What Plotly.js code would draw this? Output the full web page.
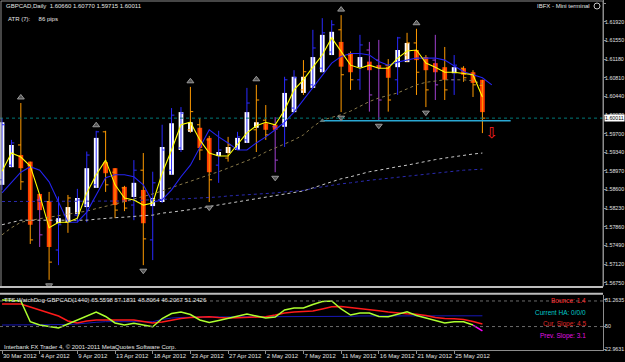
<!DOCTYPE html>
<html><head><meta charset="utf-8">
<script src="https://cdn.plot.ly/plotly-3.0.1.min.js"></script>
<style>html,body{margin:0;padding:0;background:#000;}#chart{width:625px;height:362px;}</style>
</head><body><div id="chart"></div>
<script>
// ---------- data ----------
const symbol = 'GBPCAD,Daily';
const lastOHLC = [1.60660, 1.60770, 1.59715, 1.60011];
const dateLabels = ['30 Mar 2012','4 Apr 2012','9 Apr 2012','13 Apr 2012','18 Apr 2012','23 Apr 2012','27 Apr 2012','2 May 2012','7 May 2012','11 May 2012','16 May 2012','21 May 2012','25 May 2012'];
const dateBars = [0,4,8,12,16,20,24,28,32,36,40,44,48];
const priceTicks = [1.62290,1.61920,1.61550,1.61180,1.60810,1.60440,1.60070,1.59700,1.59340,1.58970,1.58600,1.58230,1.57860,1.57490,1.57120,1.56750];

const high = [1.6001,1.5958,1.6031,1.5915,1.5849,1.5855,1.5846,1.5849,1.5861,1.5935,
  1.5976,1.5976,1.5902,1.5867,1.5918,1.5932,1.5895,1.5988,1.6021,1.6023,
  1.6063,1.6001,1.5966,1.5976,1.5964,1.5974,1.6061,1.6067,1.6027,1.6003,
  1.6083,1.6096,1.6116,1.6176,1.6199,1.6195,1.6205,1.6133,1.6166,1.6152,
  1.6156,1.6118,1.6162,1.6170,1.6178,1.6126,1.6166,1.6142,1.6126,1.6104,
  1.6096,1.60770];
const low = [1.5859,1.5904,1.5859,1.5752,1.5746,1.5681,1.5710,1.5774,1.5795,1.5795,
  1.5863,1.5855,1.5803,1.5817,1.5799,1.5710,1.5720,1.5833,1.5889,1.5934,
  1.5972,1.5918,1.5835,1.5873,1.5915,1.5938,1.5952,1.5934,1.5958,1.5894,
  1.5944,1.6013,1.6047,1.6061,1.6092,1.6126,1.6013,1.6057,1.6057,1.6014,
  1.5997,1.6014,1.6047,1.6112,1.6047,1.6023,1.6037,1.6037,1.6047,1.6073,
  1.6043,1.59715];
const barOpen = [1.5879,1.5908,1.5948,1.5908,1.5839,1.5836,1.5740,1.5795,1.5809,1.5829,
  1.5869,1.5974,1.5894,1.5863,1.5829,1.5898,1.5760,1.5839,1.5898,1.5942,
  1.5978,1.5988,1.5958,1.5908,1.5922,1.5942,1.5958,1.5978,1.5997,1.5984,
  1.5988,1.6021,1.6057,1.6067,1.6100,1.6132,1.6176,1.6126,1.6077,1.6136,
  1.6116,1.6106,1.6077,1.6126,1.6150,1.6120,1.6116,1.6096,1.6077,1.6100,
  1.6087,1.60660];
const barClose = [1.5988,1.5952,1.5875,1.5760,1.5770,1.5716,1.5790,1.5843,1.5839,1.5928,
  1.5974,1.5869,1.5819,1.5823,1.5898,1.5762,1.5873,1.5938,1.6007,1.6011,
  1.6014,1.5938,1.5879,1.5938,1.5948,1.5964,1.6031,1.6037,1.5968,1.5918,
  1.6077,1.6081,1.6093,1.6140,1.6170,1.6186,1.6087,1.6077,1.6146,1.6047,
  1.6037,1.6037,1.6160,1.6150,1.6092,1.6057,1.6067,1.6057,1.6106,1.6081,
  1.6067,1.60011];
const haOpen = [1.5869,1.5904,1.5928,1.5915,1.5851,1.5836,1.5793,1.5795,1.5811,1.5825,
  1.5863,1.5914,1.5902,1.5865,1.5845,1.5859,1.5827,1.5835,1.5889,1.5938,
  1.5974,1.5982,1.5962,1.5926,1.5932,1.5938,1.5952,1.5982,1.5991,1.5988,
  1.5984,1.6013,1.6051,1.6061,1.6092,1.6126,1.6152,1.6130,1.6102,1.6113,
  1.6106,1.6103,1.6102,1.6112,1.6136,1.6122,1.6110,1.6102,1.6090,1.6100,
  1.6092,1.6077];
const haClose = [1.5993,1.5948,1.5902,1.5790,1.5819,1.5746,1.5803,1.5825,1.5843,1.5902,
  1.5962,1.5892,1.5829,1.5835,1.5873,1.5793,1.5843,1.5944,1.5991,1.6013,
  1.5993,1.5942,1.5894,1.5934,1.5944,1.5962,1.6013,1.5993,1.5978,1.5978,
  1.6051,1.6083,1.6083,1.6122,1.6166,1.6172,1.6103,1.6092,1.6122,1.6096,
  1.6100,1.6081,1.6136,1.6150,1.6116,1.6096,1.6092,1.6077,1.6102,1.6087,
  1.6071,1.6013];
// bar state: u = bullish, d = bearish, n = neutral
const barState = ['u','u','d','d','n','d','u','d','u','u',
  'u','d','d','d','u','d','u','u','u','u',
  'd','d','d','u','d','u','u','d','d','n',
  'u','u','d','u','u','u','d','d','u','n',
  'n','d','u','d','d','d','n','d','u','d',
  'd','d'];
const fastMA = [1.5896,1.5932,1.5924,1.5906,1.5849,1.5784,1.5795,1.5795,1.5803,1.5853,
  1.5889,1.5918,1.5869,1.5843,1.5839,1.5829,1.5833,1.5892,1.5938,1.5988,
  1.5993,1.5958,1.5932,1.5926,1.5926,1.5948,1.5972,1.5986,1.5993,1.5988,
  1.6017,1.6057,1.6077,1.6102,1.6126,1.6160,1.6132,1.6106,1.6100,1.6106,
  1.6100,1.6100,1.6120,1.6134,1.6136,1.6110,1.6102,1.6092,1.6092,1.6090,
  1.6087,1.6043];
const slowMA = [1.5853,1.5873,1.5894,1.5905,1.5898,1.5875,1.5835,1.5795,1.5795,1.5815,
  1.5849,1.5883,1.5889,1.5889,1.5885,1.5869,1.5835,1.5839,1.5859,1.5885,
  1.5908,1.5942,1.5978,1.5964,1.5952,1.5938,1.5938,1.5952,1.5964,1.5978,
  1.5993,1.6013,1.6037,1.6061,1.6087,1.6110,1.6123,1.6129,1.6129,1.6126,
  1.6113,1.6106,1.6112,1.6116,1.6120,1.6120,1.6120,1.6116,1.6104,1.6093,
  1.6087,1.6081,1.6067];
const maGrey = [1.5790,1.5795,1.5799,1.5799,1.5799,1.5799,1.5799,1.5799,1.5799,1.5799,
  1.5801,1.5803,1.5804,1.5805,1.5807,1.5808,1.5809,1.5813,1.5815,1.5817,
  1.5820,1.5823,1.5826,1.5829,1.5832,1.5835,1.5838,1.5841,1.5844,1.5847,
  1.5850,1.5853,1.5857,1.5863,1.5869,1.5875,1.5881,1.5885,1.5890,1.5895,
  1.5898,1.5902,1.5905,1.5908,1.5912,1.5916,1.5919,1.5922,1.5925,1.5928,
  1.5930,1.5932];
const maNavy = [1.5836,1.5836,1.5836,1.5836,1.5836,1.5836,1.5836,1.5836,1.5836,1.5836,
  1.5836,1.5836,1.5837,1.5837,1.5838,1.5839,1.5839,1.5840,1.5841,1.5841,
  1.5842,1.5842,1.5844,1.5845,1.5847,1.5848,1.5849,1.5850,1.5852,1.5853,
  1.5855,1.5856,1.5858,1.5862,1.5865,1.5869,1.5871,1.5873,1.5876,1.5878,
  1.5880,1.5882,1.5885,1.5887,1.5889,1.5891,1.5893,1.5895,1.5897,1.5898,
  1.5899,1.5900];
const maBrown = [1.5770,1.5784,1.5795,1.5799,1.5802,1.5805,1.5808,1.5811,1.5814,1.5817,
  1.5822,1.5826,1.5831,1.5836,1.5841,1.5845,1.5851,1.5857,1.5864,1.5870,
  1.5876,1.5883,1.5889,1.5895,1.5902,1.5909,1.5916,1.5924,1.5934,1.5942,
  1.5950,1.5958,1.5968,1.5984,1.5997,1.6002,1.6008,1.6015,1.6025,1.6034,
  1.6041,1.6046,1.6051,1.6059,1.6067,1.6072,1.6075,1.6077,1.6077,1.6077,
  1.6075,1.6069];
const fractalUp = [2,10,20,27,36,44];
const fractalDown = [5,15,22,29,36,40,45];
const supportLevel = 1.5996, supportFrom = 34, supportTo = 54;
const sellSignalBar = 52, sellSignalPrice = 1.5970;
const atrPips = 86;

// WatchDog sub-window
const wdName = 'TTS WatchDog-GBPCAD(1440)';
const wdReadout = ['65.5598','57.1831','48.8064','46.2067','51.2426'];
const wdTicks = [81.2635, 50, 22.9631];
const wdLevels = [80, 50];
const wdFast = [81.1,80.8,80.0,55.7,51.8,50.0,48.3,53.0,57.7,63.0,
  67.1,61.8,54.2,51.8,53.8,51.8,49.8,59.4,65.3,67.1,
  64.1,57.7,54.7,57.1,59.4,62.4,64.7,62.4,60.0,61.2,
  69.4,71.8,71.8,75.9,79.4,80.0,70.6,63.5,65.9,65.9,
  61.8,61.5,64.7,67.4,63.0,60.0,56.5,54.2,55.7,55.7,51.8];
const wdFastTail = [51.8, 45.0];
const wdRed = [76.4,76.4,76.4,72.9,69.4,65.9,62.4,56.5,54.2,56.5,
  57.7,57.7,57.7,57.7,57.7,55.9,54.2,55.3,57.7,59.4,
  60.6,61.2,61.5,60.6,60.0,60.4,61.0,61.4,61.5,63.5,
  65.9,67.1,67.4,68.2,70.6,73.2,73.5,72.3,71.8,70.0,
  68.6,67.1,65.9,65.1,64.5,63.0,60.6,59.4,59.1,58.3,55.9,53.0];
const wdBlue = [51.8,51.8,51.8,51.8,51.8,51.8,51.8,52.4,53.0,54.2,
  55.0,55.7,55.7,55.7,55.7,55.7,55.7,58.3,60.0,60.6,
  61.2,61.2,61.2,61.2,61.2,61.2,61.2,61.2,61.5,61.5,
  61.5,61.5,61.5,61.5,62.0,62.0,62.0,62.0,62.4,62.4,
  62.4,62.4,62.4,62.4,63.0,63.0,63.0,63.0,62.6,62.6,62.6,62.6];
const hudLines = [['Bounce: 1.4','#FF2A2A'],['Current HA: 0/0/0','#00C8C8'],['Cur. Slope: 4.5','#E02828'],['Prev. Slope: 3.1','#E010E0']];

// ---------- build ----------
const W = 603, H = 350; // plot area in px
const px = x => x / W, py = y => 1 - y / H;
const bars = high.map((_, i) => i);
const idx = n => Array.from({length: n}, (_, i) => i);
const stateColor = {u: '#2A2AFF', d: '#FF9A00', n: '#A040D0'};
const FONT = 'Liberation Sans, Arial, sans-serif';
const traces = [];
const line = (x, y, color, width, dash, yaxis) => ({type: 'scatter', mode: 'lines', x, y, yaxis: yaxis || 'y',
  line: {color, width, dash: dash || 'solid'}, hoverinfo: 'skip', showlegend: false});

traces.push(line(idx(maGrey.length), maGrey, '#C8C8C8', 1, 'dot'));
traces.push(line(idx(maNavy.length), maNavy, '#2A2AB0', 1, 'dot'));
traces.push(line(idx(maBrown.length), maBrown, '#8A7A4A', 1, 'dot'));
traces.push(line([supportFrom, supportTo], [supportLevel, supportLevel], '#2AA8D4', 1.6));

['u', 'd', 'n'].forEach(s => {
  const ix = bars.filter(i => barState[i] === s);
  const c = stateColor[s];
  traces.push({type: 'ohlc', x: ix, open: ix.map(i => barOpen[i]), high: ix.map(i => high[i]),
    low: ix.map(i => low[i]), close: ix.map(i => barClose[i]), tickwidth: 0.3,
    increasing: {line: {color: c, width: 1}}, decreasing: {line: {color: c, width: 1}},
    hoverinfo: 'skip', showlegend: false, yaxis: 'y'});
});
traces.push({type: 'bar', x: bars, base: bars.map(i => Math.min(haOpen[i], haClose[i])),
  y: bars.map(i => Math.abs(haClose[i] - haOpen[i])), width: 0.5, yaxis: 'y',
  marker: {color: bars.map(i => haClose[i] >= haOpen[i] ? '#FFFFFF' : '#FF3C00'), line: {width: 0}},
  hoverinfo: 'skip', showlegend: false});
traces.push(line(idx(slowMA.length), slowMA, '#2424F0', 1.1));
traces.push(line(idx(fastMA.length), fastMA, '#FFFF00', 1.1));
traces.push({type: 'scatter', mode: 'markers', x: fractalUp, y: fractalUp.map(i => high[i] + 0.0011),
  marker: {symbol: 'triangle-up', size: 6, color: '#555', line: {color: '#9a9a9a', width: 1}}, hoverinfo: 'skip', showlegend: false});
traces.push({type: 'scatter', mode: 'markers', x: fractalDown, y: fractalDown.map(i => low[i] - 0.0011),
  marker: {symbol: 'triangle-down', size: 6, color: '#555', line: {color: '#9a9a9a', width: 1}}, hoverinfo: 'skip', showlegend: false});
traces.push({type: 'scatter', mode: 'markers', x: [supportFrom], y: [supportLevel],
  marker: {symbol: 'triangle-up', size: 5, color: '#607878'}, hoverinfo: 'skip', showlegend: false});
traces.push({type: 'scatter', mode: 'text', x: [sellSignalBar], y: [sellSignalPrice], text: ['⇩'],
  textfont: {color: '#FF2020', size: 15, family: 'DejaVu Sans'}, hoverinfo: 'skip', showlegend: false});

// sub-window
traces.push(line(idx(wdBlue.length), wdBlue, '#1818B8', 1, 'solid', 'y2'));
traces.push(line(idx(wdRed.length), wdRed, '#FF1A1A', 1.5, 'solid', 'y2'));
traces.push(line(idx(wdFast.length), wdFast, '#ADFF2F', 1.5, 'solid', 'y2'));
traces.push(line([wdFast.length - 1, wdFast.length], wdFastTail, '#FF00FF', 1.5, 'solid', 'y2'));

const shapes = [
  {type: 'line', xref: 'paper', yref: 'y', x0: 0, x1: 1, y0: lastOHLC[3], y1: lastOHLC[3], line: {color: '#007A7A', width: 1, dash: 'dot'}},
  {type: 'rect', xref: 'paper', yref: 'paper', x0: px(1), x1: 1, y0: py(287), y1: py(1), line: {color: '#8C8C8C', width: 1}},
  {type: 'line', xref: 'paper', yref: 'paper', x0: 0, x1: 1, y0: py(287), y1: py(287), line: {color: '#BDBDBD', width: 2}},
  {type: 'line', xref: 'paper', yref: 'paper', x0: 0, x1: 1, y0: py(293.7), y1: py(293.7), line: {color: '#BDBDBD', width: 2}},
  {type: 'circle', xref: 'paper', yref: 'paper', x0: px(594), x1: px(600), y0: py(9), y1: py(3), line: {color: '#C8C8C8', width: 1}}
];
wdLevels.forEach(v => shapes.push({type: 'line', xref: 'paper', yref: 'y2', x0: 0, x1: 1, y0: v, y1: v, line: {color: '#6A6A6A', width: 1, dash: 'dot'}}));

const nb = '\u00a0';
const ann = (text, x, y, xanchor, color, size) => ({text, x: px(x), y: py(y), xref: 'paper', yref: 'paper',
  xanchor, yanchor: 'middle', showarrow: false, font: {color, size: size || 6, family: FONT}});
const annotations = [
  ann(symbol + nb + nb + lastOHLC.map(v => v.toFixed(5)).join(' '), 4, 6, 'left', '#E6E6E6'),
  ann('ATR (7):' + nb.repeat(5) + atrPips + ' pips', 6, 19, 'left', '#E6E6E6'),
  ann('IBFX - Mini terminal', 592, 6, 'right', '#E6E6E6'),
  ann(wdName + ' ' + wdReadout.join(' '), 2, 300, 'left', '#E6E6E6'),
  ann('Interbank FX Trader 4, © 2001-2011 MetaQuotes Software Corp.', 2, 346.5, 'left', '#E6E6E6'),
  {text: lastOHLC[3].toFixed(5), x: 1, xref: 'paper', y: lastOHLC[3], yref: 'y', xanchor: 'left', xshift: 1,
    yanchor: 'middle', showarrow: false, bgcolor: '#FFFFFF', borderpad: 0, font: {color: '#000', size: 5.3, family: FONT}}
];
[300.7, 312, 323.5, 336].forEach((y, k) => annotations.push(ann(hudLines[k][0], 588, y, 'right', hudLines[k][1], 6.5)));

const axisCommon = {showgrid: false, zeroline: false, showline: true, linecolor: '#8C8C8C', linewidth: 1,
  ticks: 'outside', ticklen: 2, tickcolor: '#8C8C8C', tickfont: {color: '#E0E0E0', size: 5.3, family: FONT}};
const layout = {
  width: 625, height: 362, margin: {l: 0, r: 22, t: 0, b: 12},
  paper_bgcolor: '#000', plot_bgcolor: '#000', showlegend: false, dragmode: false,
  font: {family: FONT, color: '#E0E0E0', size: 6},
  xaxis: Object.assign({}, axisCommon, {range: [-0.2123, 63.80], anchor: 'y2', tickvals: dateBars, ticktext: dateLabels,
    tickangle: 0, ticklen: 3, tickfont: {color: '#E0E0E0', size: 6, family: FONT},
    ticklabelposition: 'outside right', rangeslider: {visible: false}, fixedrange: true}),
  yaxis: Object.assign({}, axisCommon, {domain: [1 - 286 / H, 1], range: [1.6235 - 0.000198 * 286, 1.6235], side: 'right', anchor: 'x',
    tickvals: priceTicks, ticktext: priceTicks.map(v => v.toFixed(5)), ticklabelstandoff: -2, fixedrange: true}),
  yaxis2: Object.assign({}, axisCommon, {domain: [0, 55 / H], range: [22.5, 87.0], side: 'right', anchor: 'x',
    tickvals: wdTicks, ticktext: wdTicks.map(String), ticklabelstandoff: -2, fixedrange: true}),
  shapes, annotations
};
Plotly.newPlot('chart', traces, layout, {staticPlot: true, displayModeBar: false});
</script></body></html>
